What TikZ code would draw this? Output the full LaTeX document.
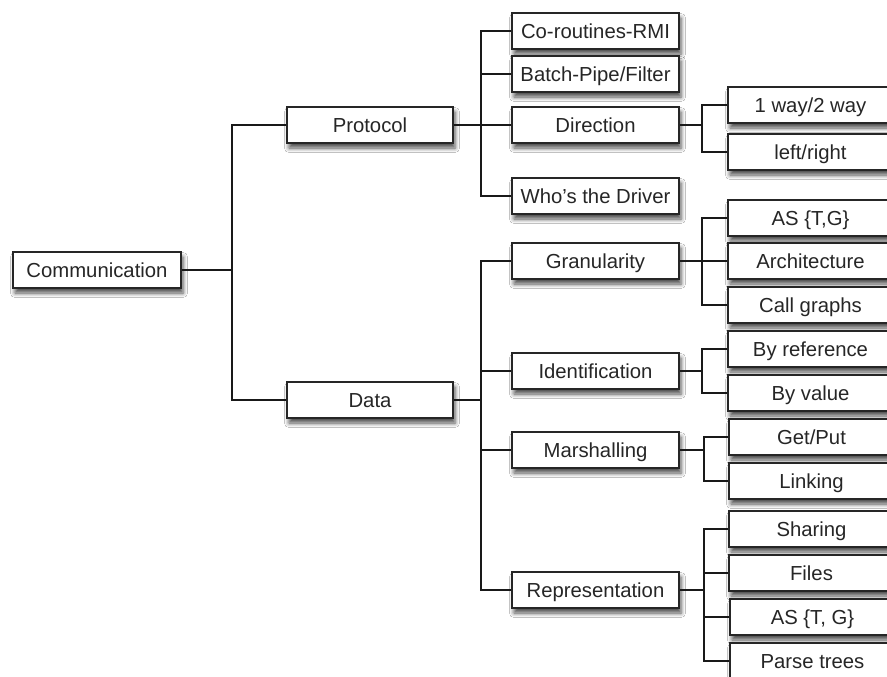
\documentclass[tikz,border=0pt]{standalone}
\usepackage{fontspec}
\setmainfont{Liberation Sans}
\usetikzlibrary{shadows.blur}
\begin{document}
\begin{tikzpicture}[x=1pt,y=-1pt,
  box/.style={draw=black!85, line width=1.6pt, fill=white, minimum height=36pt,
    inner sep=0pt, text height=14.4pt, text depth=0pt,
    font=\fontsize{20.3}{22}\selectfont, text=black!85,
    blur shadow={shadow xshift=2pt, shadow yshift=-5pt, shadow blur radius=4.5pt, shadow opacity=70}},
  lvlA/.style={box, minimum width=168pt},
  lvlB/.style={box, minimum width=166pt},
  lvlC/.style={box, minimum width=167pt},
  leaf/.style={box, minimum width=165pt},
  conn/.style={draw=black!90, line width=1.5pt}]
\clip (0,0) rectangle (887,677);
\useasboundingbox (0,0) rectangle (887,677);
\fill[white] (0,0) rectangle (887,677);

% nodes
\node[lvlA] (comm) at (97,270) {Communication};
\node[lvlB] (proto) at (370,125) {Protocol};
\node[lvlB] (data) at (370,400) {Data};

\node[lvlC] (corout) at (595.5,31) {Co-routines-RMI};
\node[lvlC] (batch) at (595.5,74) {Batch-Pipe/Filter};
\node[lvlC] (dir) at (595.5,125) {Direction};
\node[lvlC] (who) at (595.5,196) {Who's the Driver};

\node[lvlC] (gran) at (595.5,261) {Granularity};
\node[lvlC] (ident) at (595.5,371) {Identification};
\node[lvlC] (marsh) at (595.5,450) {Marshalling};
\node[lvlC] (repr) at (595.5,590) {Representation};

\node[leaf] (oneway) at (810.5,105) {1 way/2 way};
\node[leaf] (lr) at (810.5,152) {left/right};
\node[leaf] (astg) at (810.5,218) {AS \{T,G\}};
\node[leaf] (arch) at (810.5,261) {Architecture};
\node[leaf] (callg) at (810.5,305) {Call graphs};
\node[leaf] (byref) at (810.5,349) {By reference};
\node[leaf] (byval) at (810.5,393) {By value};
\node[leaf] (getput) at (811.5,437) {Get/Put};
\node[leaf] (link) at (811.5,481) {Linking};
\node[leaf] (share) at (811.5,529) {Sharing};
\node[leaf] (files) at (811.5,573) {Files};
\node[leaf] (astg2) at (812.5,617) {AS \{T, G\}};
\node[leaf] (parse) at (812.5,661) {Parse trees};

% junctions
\coordinate (j1) at (232,270);
\coordinate (j2) at (481,125);
\coordinate (j3) at (702,125);
\coordinate (j4) at (702,261);
\coordinate (j5) at (702,371);
\coordinate (j6) at (481,400);
\coordinate (j7) at (704,450);
\coordinate (j8) at (704,590);

\draw[conn] (comm.east) -- (j1);
\draw[conn] (j1) |- (proto.west);
\draw[conn] (j1) |- (data.west);

\draw[conn] (proto.east) -- (j2);
\foreach \n in {corout,batch,dir,who} \draw[conn] (j2) |- (\n.west);

\draw[conn] (dir.east) -- (j3);
\foreach \n in {oneway,lr} \draw[conn] (j3) |- (\n.west);

\draw[conn] (data.east) -- (j6);
\foreach \n in {gran,ident,marsh,repr} \draw[conn] (j6) |- (\n.west);

\draw[conn] (gran.east) -- (j4);
\foreach \n in {astg,arch,callg} \draw[conn] (j4) |- (\n.west);

\draw[conn] (ident.east) -- (j5);
\foreach \n in {byref,byval} \draw[conn] (j5) |- (\n.west);

\draw[conn] (marsh.east) -- (j7);
\foreach \n in {getput,link} \draw[conn] (j7) |- (\n.west);

\draw[conn] (repr.east) -- (j8);
\foreach \n in {share,files,astg2,parse} \draw[conn] (j8) |- (\n.west);
\end{tikzpicture}
\end{document}
